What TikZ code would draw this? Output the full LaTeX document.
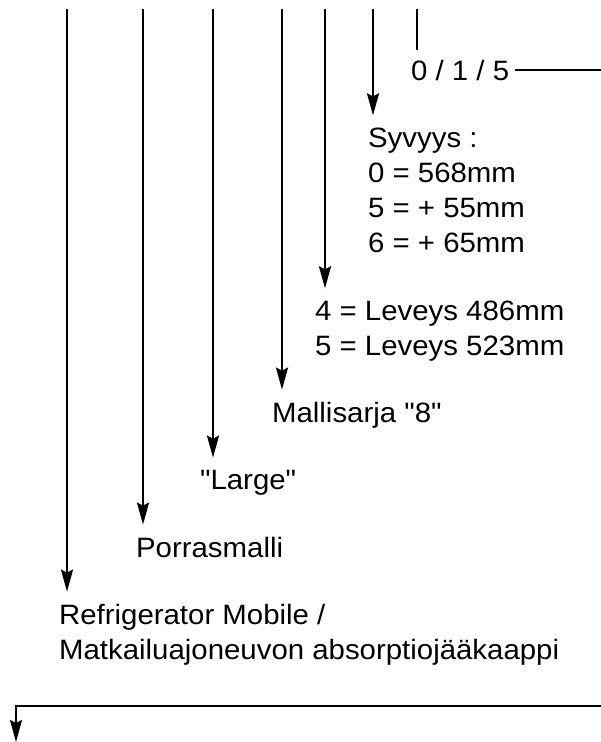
\documentclass[tikz,border=0pt]{standalone}
\usepackage{fontspec}
\setmainfont[FakeStretch=1.05,Ligatures=TeXOff]{Liberation Sans}
\usetikzlibrary{arrows.meta}
\tikzset{arr/.style={-{Stealth[length=22pt,width=12pt,inset=3pt]},shorten >=11pt}}
\begin{document}
\begin{tikzpicture}
  [x=1pt,y=-1pt,line width=2.2pt,
   every node/.style={anchor=base west,inner sep=0pt,align=left,font=\fontsize{28}{35}\selectfont}]
  \useasboundingbox (0,0) rectangle (601,742);
  \coordinate (t1) at (67,9);
  \coordinate (t2) at (143,9);
  \coordinate (t3) at (213,9);
  \coordinate (t4) at (282,9);
  \coordinate (t5) at (325,9);
  \coordinate (t6) at (373,9);
  \coordinate (t7) at (417,9);
  \coordinate (right) at (601,70);

  % base anchor of a block = its last line
  \node (opt) at (410,80) {0 / 1 / 5};
  \node (syvyys) at (367,252) {Syvyys :\\0 = 568mm\\5 = + 55mm\\6 = + 65mm};
  \node (leveys) at (314,355) {4 = Leveys 486mm\\5 = Leveys 523mm};
  \node (sarja) at (271,422) {Mallisarja "8"};
  \node (large) at (199,489) {"Large"};
  \node (porras) at (135,557) {Porrasmalli};
  \node (fridge) at (58,659) {Refrigerator Mobile /\\Matkailuajoneuvon absorptiojääkaappi};

  \foreach \from/\to in {t1/fridge, t2/porras, t3/large, t4/sarja, t5/leveys, t6/syvyys}
    \draw[arr] (\from) -- (\from |- \to.north);

  \draw[shorten >=9pt] (t7) -- (t7 |- opt.north);
  \draw[shorten <=5pt] (opt.east) -- (opt.east -| right);

  % bottom return line
  \coordinate (b1) at (601,706);
  \coordinate (b2) at (16,706);
  \coordinate (b3) at (16,742);
  \draw[arr,shorten >=0pt] (b1) -- (b2) -- (b3);
\end{tikzpicture}
\end{document}
